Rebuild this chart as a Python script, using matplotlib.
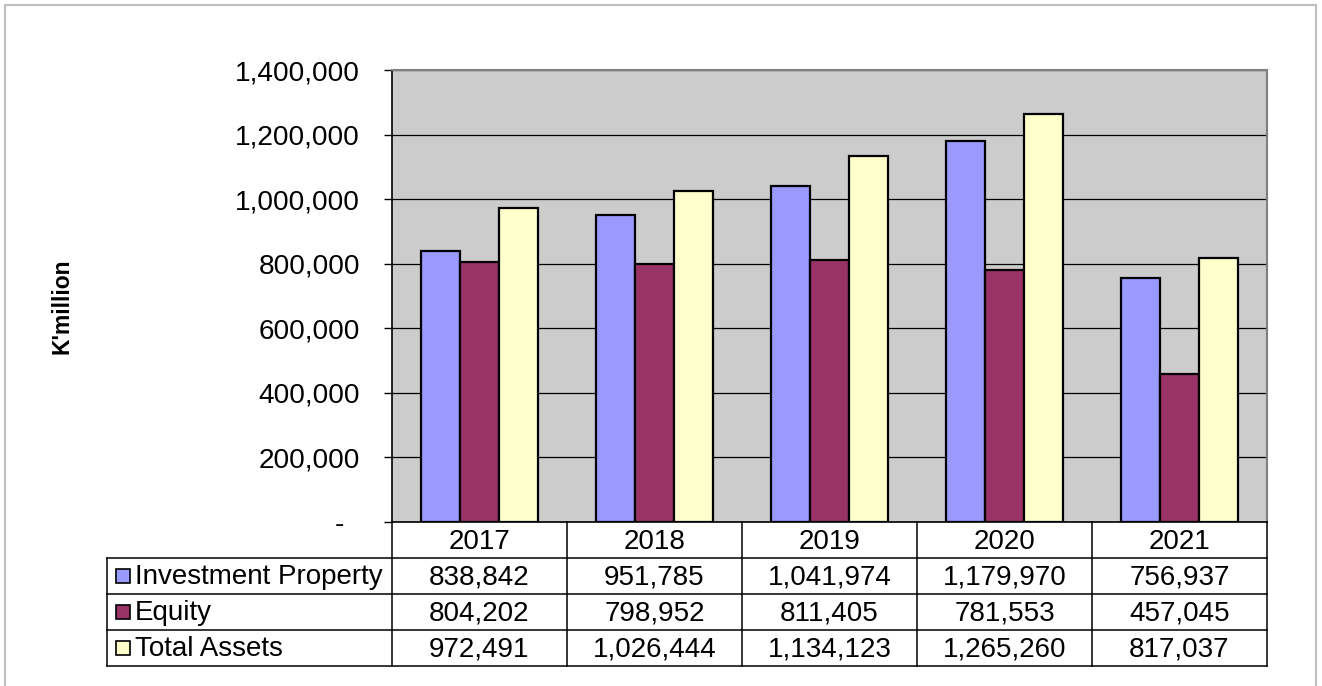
import matplotlib.pyplot as plt
import numpy as np
from matplotlib.ticker import FuncFormatter
from matplotlib.patches import Rectangle
from matplotlib.lines import Line2D

plt.rcParams['font.family'] = ['Liberation Sans', 'DejaVu Sans']

years = ['2017', '2018', '2019', '2020', '2021']
series = ['Investment Property', 'Equity', 'Total Assets']
investment_property = [838842, 951785, 1041974, 1179970, 756937]
equity = [804202, 798952, 811405, 781553, 457045]
total_assets = [972491, 1026444, 1134123, 1265260, 817037]
colors = ['#9999ff', '#993366', '#ffffcc']

W, H = 1322, 686
fig = plt.figure(figsize=(W / 100, H / 100), dpi=100)

# pixel helpers (origin top-left)
def fx(x):
    return x / W

def fy(y):
    return 1 - y / H

left, right, top, bottom = 392, 1267, 70, 522
ax = fig.add_axes([fx(left), fy(bottom), fx(right - left), (bottom - top) / H])
ax.set_facecolor('#cccccc')

x = np.arange(len(years))
w = 0.223
values = [investment_property, equity, total_assets]
for i, vals in enumerate(values):
    ax.bar(x + (i - 1) * w, vals, width=w, color=colors[i],
           edgecolor='black', linewidth=1.6, zorder=3)

ax.set_xlim(-0.5, len(years) - 0.5)
ax.set_ylim(0, 1400000)
ax.set_yticks(np.arange(0, 1400001, 200000))
ax.yaxis.set_major_formatter(FuncFormatter(
    lambda v, p: '-  ' if v == 0 else f'{int(v):,}'))
ax.tick_params(axis='y', labelsize=20.2, length=6, width=1, pad=17)
ax.set_xticks([])
ax.grid(axis='y', color='black', linewidth=0.9, zorder=1)
for s in ['top', 'right']:
    ax.spines[s].set_color('#808080')
    ax.spines[s].set_linewidth(1.5)
ax.spines['left'].set_linewidth(1.2)
ax.spines['bottom'].set_linewidth(1.2)

fig.text(fx(62), fy(306), "K'million", rotation=90, fontsize=16.5,
         fontweight='bold', ha='center', va='center')

# data table below the plot
col_w = (right - left) / len(years)
tbl_left = 107
row_h = 36
fs = 20
hdr_top, hdr_bot = bottom, bottom + row_h
rows_y = [hdr_bot + k * row_h for k in range(len(series) + 1)]

def hline(x0, x1, y):
    fig.add_artist(Line2D([fx(x0), fx(x1)], [fy(y), fy(y)], color='black', lw=1.1))

def vline(x0, y0, y1):
    fig.add_artist(Line2D([fx(x0), fx(x0)], [fy(y0), fy(y1)], color='black', lw=1.1))

# header cells
for j in range(len(years) + 1):
    vline(left + j * col_w, hdr_top, rows_y[-1])
for j, yr in enumerate(years):
    fig.text(fx(left + (j + 0.5) * col_w), fy(hdr_top + row_h / 2 + 2), yr,
             fontsize=fs, ha='center', va='center')
for y in rows_y:
    hline(tbl_left, right, y)
vline(tbl_left, rows_y[0], rows_y[-1])

for i, name in enumerate(series):
    yc = rows_y[i] + row_h / 2
    fig.add_artist(Rectangle((fx(116), fy(yc + 7)), 14 / W, 14 / H,
                             facecolor=colors[i], edgecolor='black', lw=1.2))
    fig.text(fx(135), fy(yc + 1), name, fontsize=fs, ha='left', va='center')
    for j, v in enumerate(values[i]):
        fig.text(fx(left + (j + 0.5) * col_w), fy(yc + 1), f'{v:,}',
                 fontsize=fs, ha='center', va='center')

# outer chart border
fig.add_artist(Rectangle((fx(5), fy(690)), (1316 - 5) / W, (690 - 5) / H,
                         fill=False, edgecolor='#bfbfbf', lw=1.5))

fig.savefig('out.png', dpi=100)
